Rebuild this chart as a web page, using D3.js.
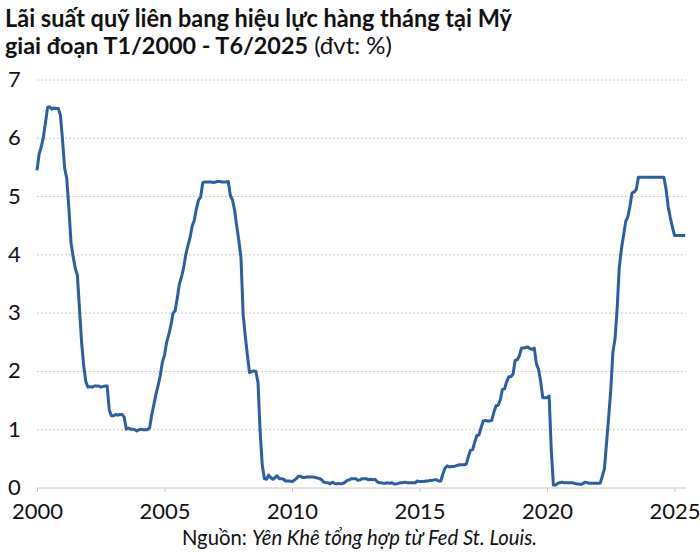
<!DOCTYPE html>
<html>
<head>
<meta charset="utf-8">
<script src="https://cdn.jsdelivr.net/npm/d3@7"></script>
<style>
  body { margin: 0; background: #fff; }
  text { font-family: Lato, "Open Sans", sans-serif; }
</style>
</head>
<body>
<div id="chart"></div>
<script>
// Monthly effective fed funds rate (%), Jan..Dec per year
var rates2000 = [5.45, 5.73, 5.85, 6.02, 6.27, 6.53, 6.54, 6.50, 6.52, 6.51, 6.51, 6.40];
var rates2001 = [5.98, 5.49, 5.31, 4.80, 4.21, 3.97, 3.77, 3.65, 3.07, 2.49, 2.09, 1.82];
var rates2002 = [1.73, 1.74, 1.73, 1.75, 1.75, 1.75, 1.73, 1.74, 1.75, 1.75, 1.34, 1.24];
var rates2003 = [1.24, 1.26, 1.25, 1.26, 1.26, 1.22, 1.01, 1.03, 1.01, 1.01, 1.00, 0.98];
var rates2004 = [1.00, 1.01, 1.00, 1.00, 1.00, 1.03, 1.26, 1.43, 1.61, 1.76, 1.93, 2.16];
var rates2005 = [2.28, 2.50, 2.63, 2.79, 3.00, 3.04, 3.26, 3.50, 3.62, 3.78, 4.00, 4.16];
var rates2006 = [4.29, 4.49, 4.59, 4.79, 4.94, 4.99, 5.24, 5.25, 5.25, 5.25, 5.25, 5.24];
var rates2007 = [5.25, 5.26, 5.26, 5.25, 5.25, 5.25, 5.26, 5.02, 4.94, 4.76, 4.49, 4.24];
var rates2008 = [3.94, 2.98, 2.61, 2.28, 1.98, 2.00, 2.01, 2.00, 1.81, 0.97, 0.39, 0.16];
var rates2009 = [0.15, 0.22, 0.18, 0.15, 0.18, 0.21, 0.16, 0.16, 0.15, 0.12, 0.12, 0.12];
var rates2010 = [0.11, 0.13, 0.16, 0.20, 0.20, 0.18, 0.18, 0.19, 0.19, 0.19, 0.19, 0.18];
var rates2011 = [0.17, 0.16, 0.14, 0.10, 0.09, 0.09, 0.07, 0.10, 0.08, 0.07, 0.08, 0.07];
var rates2012 = [0.08, 0.10, 0.13, 0.14, 0.16, 0.16, 0.16, 0.13, 0.14, 0.16, 0.16, 0.16];
var rates2013 = [0.14, 0.15, 0.14, 0.15, 0.11, 0.09, 0.09, 0.08, 0.08, 0.09, 0.08, 0.09];
var rates2014 = [0.07, 0.07, 0.08, 0.09, 0.09, 0.10, 0.09, 0.09, 0.09, 0.09, 0.09, 0.12];
var rates2015 = [0.11, 0.11, 0.11, 0.12, 0.12, 0.13, 0.13, 0.14, 0.14, 0.12, 0.12, 0.24];
var rates2016 = [0.34, 0.38, 0.36, 0.37, 0.37, 0.38, 0.39, 0.40, 0.40, 0.40, 0.41, 0.54];
var rates2017 = [0.65, 0.66, 0.79, 0.90, 0.91, 1.04, 1.15, 1.16, 1.15, 1.15, 1.16, 1.30];
var rates2018 = [1.41, 1.42, 1.51, 1.69, 1.70, 1.82, 1.91, 1.91, 1.95, 2.19, 2.20, 2.27];
var rates2019 = [2.40, 2.40, 2.41, 2.42, 2.39, 2.38, 2.40, 2.13, 2.04, 1.83, 1.55, 1.55];
var rates2020 = [1.55, 1.58, 0.65, 0.05, 0.05, 0.08, 0.09, 0.10, 0.09, 0.09, 0.09, 0.09];
var rates2021 = [0.09, 0.08, 0.07, 0.07, 0.06, 0.08, 0.10, 0.09, 0.08, 0.08, 0.08, 0.08];
var rates2022 = [0.08, 0.08, 0.20, 0.33, 0.77, 1.21, 1.68, 2.33, 2.56, 3.08, 3.78, 4.10];
var rates2023 = [4.33, 4.57, 4.65, 4.83, 5.06, 5.08, 5.12, 5.33, 5.33, 5.33, 5.33, 5.33];
var rates2024 = [5.33, 5.33, 5.33, 5.33, 5.33, 5.33, 5.33, 5.33, 5.13, 4.83, 4.64, 4.48];
var rates2025 = [4.33, 4.33, 4.33, 4.33, 4.33, 4.33];

var yearlyRates = [rates2000, rates2001, rates2002, rates2003, rates2004, rates2005,
    rates2006, rates2007, rates2008, rates2009, rates2010, rates2011, rates2012,
    rates2013, rates2014, rates2015, rates2016, rates2017, rates2018, rates2019,
    rates2020, rates2021, rates2022, rates2023, rates2024, rates2025];

var xTicks = [2000, 2005, 2010, 2015, 2020, 2025];
var yTicks = [0, 1, 2, 3, 4, 5, 6, 7];

var titleLine1 = "Lãi suất quỹ liên bang hiệu lực hàng tháng tại Mỹ";
var titleLine2 = "giai đoạn T1/2000 - T6/2025";
var titleUnit = " (đvt: %)";

// Flatten into {t, v} points, t = fractional year
var data = [];
yearlyRates.forEach((arr, i) => {
    arr.forEach((v, m) => {
        data.push({ t: 2000 + i + m / 12, v: v });
    });
});

var svgWidth = 700;
var svgHeight = 555;

var plotLeft = 37;
var plotRight = 686;

var svg = d3.select("#chart")
    .append("svg")
    .attr("width", svgWidth)
    .attr("height", svgHeight);

// x scale: years
var xScale = d3.scaleLinear()
    .domain([2000, 2025.45])
    .range([plotLeft, plotRight]);

// y scale: rate
var yScale = d3.scaleLinear()
    .domain([0, 7])
    .range([488, 80]);

// Gridlines
svg.append("g")
    .selectAll("line")
    .data(yTicks.filter(d => d > 0))
    .enter()
    .append("line")
    .attr("x1", plotLeft)
    .attr("x2", plotRight)
    .attr("y1", d => yScale(d))
    .attr("y2", d => yScale(d))
    .attr("stroke", "#c8c8c8")
    .attr("stroke-width", 1)
    .attr("stroke-dasharray", "2,2");

// Baseline axis with small ticks
var bottomAxis = d3.axisBottom(xScale)
    .tickValues(xTicks)
    .tickFormat(d3.format("d"))
    .tickSize(4)
    .tickPadding(11);

var xAxisG = svg.append("g")
    .attr("transform", `translate(0, ${yScale(0)})`)
    .call(bottomAxis);

xAxisG.select(".domain").attr("stroke", "#c8c8c8").attr("d", `M${plotLeft},0H${plotRight}`);
xAxisG.selectAll(".tick line").attr("stroke", "#c8c8c8");
xAxisG.selectAll(".tick text")
    .attr("font-family", "Lato, sans-serif")
    .attr("font-size", "22px")
    .attr("fill", "#111");

// Y labels
svg.append("g")
    .selectAll("text")
    .data(yTicks)
    .enter()
    .append("text")
    .attr("x", 8)
    .attr("y", d => yScale(d) + 7)
    .attr("font-size", "22px")
    .attr("fill", "#111")
    .text(d => d);

// Rate line
var line = d3.line()
    .x(d => xScale(d.t))
    .y(d => yScale(d.v));

svg.append("path")
    .datum(data)
    .attr("fill", "none")
    .attr("stroke", "#2c5ea6")
    .attr("stroke-width", 3)
    .attr("stroke-linejoin", "round")
    .attr("d", line);

// Title
svg.append("text")
    .attr("x", 5)
    .attr("y", 27)
    .attr("font-size", "24px")
    .attr("font-weight", "bold")
    .attr("fill", "#111")
    .attr("textLength", 507)
    .attr("lengthAdjust", "spacingAndGlyphs")
    .text(titleLine1);

var t2 = svg.append("text")
    .attr("x", 5)
    .attr("y", 54)
    .attr("font-size", "23.5px")
    .attr("fill", "#111");
t2.append("tspan").attr("font-weight", "bold")
    .attr("textLength", 303).attr("lengthAdjust", "spacingAndGlyphs")
    .text(titleLine2);
t2.append("tspan").attr("font-weight", "normal")
    .attr("textLength", 84).attr("lengthAdjust", "spacingAndGlyphs")
    .text(titleUnit);

// Source
var src = svg.append("text")
    .attr("x", 182)
    .attr("y", 545)
    .attr("font-size", "20.5px")
    .attr("fill", "#111")
    .attr("textLength", 355)
    .attr("lengthAdjust", "spacingAndGlyphs");
src.append("tspan").text("Nguồn: ");
src.append("tspan").attr("font-style", "italic").text("Yên Khê tổng hợp từ Fed St. Louis.");
</script>
</body>
</html>
